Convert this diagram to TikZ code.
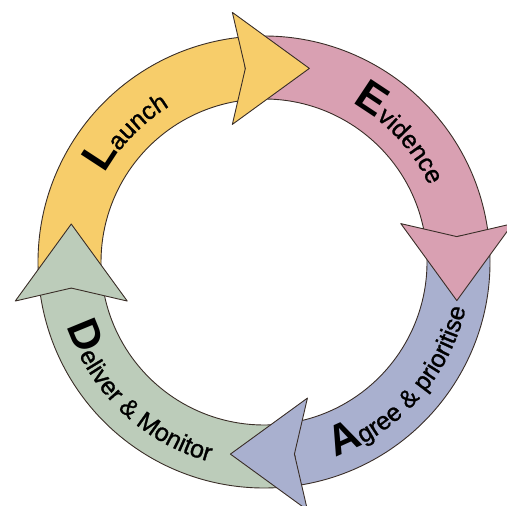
\documentclass[tikz,border=0pt]{standalone}
\usepackage{fontspec}
\setmainfont{Liberation Sans}
\usetikzlibrary{decorations.text}

\definecolor{launchcolor}{HTML}{F7CD6A}
\definecolor{evidencecolor}{HTML}{D9A0B2}
\definecolor{agreecolor}{HTML}{A9B0CF}
\definecolor{delivercolor}{HTML}{BCCCBA}
\definecolor{ringline}{HTML}{3A2E28}

\newcommand{\capfont}{\fontsize{43}{43}\selectfont\bfseries}
\newcommand{\restfont}{\fontsize{25}{25}\selectfont\mdseries\addfontfeature{FakeBold=1}}

\newcommand{\ringband}[3]
{
\def\qone{#1} % start angle of the band
\def\qtwo{#2} % end angle of the band
\def\bandcolor{#3} % fill colour of the band
\filldraw[ring line, fill=\bandcolor] (\qone:\Ro) arc[start angle=\qone, end angle=\qtwo, radius=\Ro]
  -- (\qtwo:\Ri) arc[start angle=\qtwo, end angle=\qone, radius=\Ri] -- cycle;
}

\newcommand{\ringhead}[3]
{
\def\qn{#1} % angle of the notch of the head
\def\qdir{#2} % direction the head points to
\def\headcolor{#3} % fill colour of the head
\begin{scope}[shift={(\qn:\Rm)}, rotate=\qdir]
\filldraw[ring line, fill=\headcolor] (0,0) -- (-13,56) -- (64,0) -- (-13,-56) -- cycle;
\end{scope}
}

\newcommand{\ringlabel}[4]
{
% #1, #2: start and end angle, #3: radius of the baseline, #4: text
\path[decorate, decoration={text along path, text={#4}}]
  (#1:#3) arc[start angle=#1, end angle=#2, radius=#3];
}

\begin{document}
\begin{tikzpicture}[x=1pt, y=1pt,
  ring line/.style={draw=ringline, line width=0.9pt, line join=round}]
\def\Ro{226pt} % outer radius of the ring
\def\Ri{163pt} % inner radius of the ring
\def\Rm{194.5pt} % middle of the ring, where the heads sit

\useasboundingbox (-264,-244) rectangle (243,262);

% bands first
\ringband{187.7}{95.5}{launchcolor}
\ringband{95.5}{7.5}{evidencecolor}
\ringband{7.5}{-81}{agreecolor}
\ringband{-81}{-172.3}{delivercolor}

% heads on top of the next band
\ringhead{95.5}{0}{launchcolor}
\ringhead{7.5}{-90}{evidencecolor}
\ringhead{-81}{180}{agreecolor}
\ringhead{187.7}{90}{delivercolor}

% labels
\ringlabel{151}{95}{182pt}{|\capfont|L|\restfont|aunch}
\ringlabel{61}{5}{182pt}{|\capfont|E|\restfont|vidence}
\ringlabel{290}{355}{207pt}{|\capfont|A|\restfont|gree {\&} prioritise}
\ringlabel{198}{265}{207pt}{|\capfont|D|\restfont|eliver {\&} Monitor}
\end{tikzpicture}
\end{document}
